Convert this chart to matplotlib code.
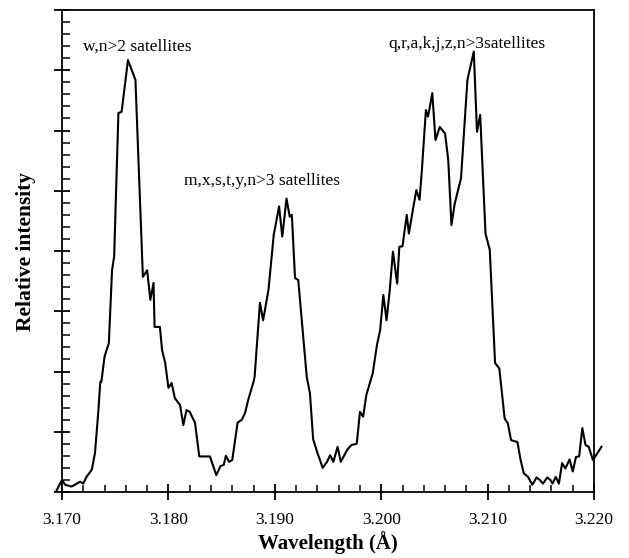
import matplotlib
matplotlib.use("Agg")
import matplotlib.pyplot as plt
from matplotlib.ticker import MultipleLocator, FormatStrFormatter

# Wavelength (Angstrom) and relative intensity
wavelength = [
    3.1695, 3.1700, 3.1703, 3.1709, 3.1717, 3.1720, 3.1723, 3.1728, 3.1731, 3.1734,
    3.1736, 3.1737, 3.1740, 3.1744, 3.1747, 3.1749, 3.1753, 3.1756, 3.1762, 3.1769,
    3.1776, 3.1780, 3.1783, 3.1786, 3.1787, 3.1792, 3.1794, 3.1797, 3.1800, 3.1803,
    3.1806, 3.1811, 3.1814, 3.1817, 3.1820, 3.1825, 3.1829, 3.1839, 3.1845, 3.1849,
    3.1852, 3.1854, 3.1857, 3.1860, 3.1865, 3.1869, 3.1872, 3.1875, 3.1880, 3.1881,
    3.1886, 3.1889, 3.1894, 3.1899, 3.1904, 3.1907, 3.1911, 3.1914, 3.1916, 3.1919,
    3.1922, 3.1930, 3.1933, 3.1936, 3.1940, 3.1945, 3.1949, 3.1952, 3.1955, 3.1959,
    3.1962, 3.1968, 3.1972, 3.1977, 3.1980, 3.1983, 3.1986, 3.1992, 3.1996, 3.1999,
    3.2002, 3.2005, 3.2008, 3.2011, 3.2015, 3.2017, 3.2020, 3.2024, 3.2026, 3.2030,
    3.2033, 3.2036, 3.2038, 3.2042, 3.2044, 3.2048, 3.2051, 3.2055, 3.2060, 3.2063,
    3.2066, 3.2069, 3.2075, 3.2081, 3.2087, 3.2090, 3.2093, 3.2098, 3.2102, 3.2107,
    3.2111, 3.2116, 3.2119, 3.2122, 3.2128, 3.2131, 3.2134, 3.2138, 3.2142, 3.2146,
    3.2149, 3.2152, 3.2156, 3.2159, 3.2161, 3.2164, 3.2167, 3.2170, 3.2173, 3.2177,
    3.2180, 3.2183, 3.2186, 3.2189, 3.2192, 3.2195, 3.2199, 3.2203, 3.2207,
]
intensity = [
    0.03, 0.20, 0.12, 0.09, 0.17, 0.14, 0.25, 0.37, 0.65, 1.31,
    1.83, 1.83, 2.25, 2.47, 3.68, 3.91, 6.29, 6.31, 7.17, 6.84,
    3.57, 3.68, 3.19, 3.47, 2.74, 2.74, 2.36, 2.14, 1.73, 1.81,
    1.56, 1.44, 1.11, 1.36, 1.33, 1.15, 0.59, 0.59, 0.28, 0.43,
    0.45, 0.60, 0.50, 0.53, 1.15, 1.20, 1.31, 1.53, 1.83, 1.91,
    3.14, 2.85, 3.35, 4.27, 4.74, 4.24, 4.87, 4.57, 4.60, 3.55,
    3.52, 1.91, 1.64, 0.88, 0.65, 0.40, 0.50, 0.61, 0.50, 0.75,
    0.50, 0.70, 0.78, 0.80, 1.33, 1.25, 1.61, 1.97, 2.44, 2.69,
    3.27, 2.85, 3.35, 3.99, 3.46, 4.07, 4.08, 4.60, 4.29, 4.71,
    5.01, 4.85, 5.29, 6.34, 6.23, 6.62, 5.84, 6.06, 5.95, 5.51,
    4.43, 4.78, 5.21, 6.84, 7.31, 5.98, 6.26, 4.29, 4.02, 2.14,
    2.05, 1.22, 1.14, 0.86, 0.83, 0.53, 0.31, 0.25, 0.12, 0.24,
    0.20, 0.14, 0.24, 0.20, 0.14, 0.25, 0.14, 0.48, 0.39, 0.54,
    0.34, 0.58, 0.59, 1.06, 0.78, 0.75, 0.53, 0.64, 0.75,
]

labels = ["w,n>2 satellites", "m,x,s,t,y,n>3 satellites", "q,r,a,k,j,z,n>3satellites"]
label_x = [3.1771, 3.1888, 3.2081]
label_y = [7.39, 5.17, 7.43]

x_ticks = [3.170, 3.180, 3.190, 3.200, 3.210, 3.220]

plt.rcParams['font.family'] = ['Liberation Serif', 'DejaVu Serif']

fig = plt.figure(figsize=(6.29, 5.58), dpi=100)
ax = fig.add_axes([0.0986, 0.1183, 0.8458, 0.8637])

ax.plot(wavelength, intensity, color='black', lw=1.5, clip_on=False)

ax.set_xlim(3.170, 3.220)
ax.set_ylim(0, 8)

ax.set_xticks(x_ticks)
ax.xaxis.set_major_formatter(FormatStrFormatter('%.3f'))
ax.xaxis.set_minor_locator(MultipleLocator(0.002))
ax.yaxis.set_major_locator(MultipleLocator(1))
ax.yaxis.set_minor_locator(MultipleLocator(0.2))
ax.set_yticklabels([])

ax.tick_params(axis='x', which='major', direction='inout', length=11, width=1.3,
               labelsize=12.5, pad=9, top=False)
ax.tick_params(axis='x', which='minor', direction='in', length=5, width=1.1, top=False)
ax.tick_params(axis='y', which='major', direction='inout', length=11, width=1.3,
               right=False, labelleft=False)
ax.tick_params(axis='y', which='minor', direction='in', length=6, width=1.1, right=False)

for s in ax.spines.values():
    s.set_linewidth(1.3)

for t, x, y in zip(labels, label_x, label_y):
    ax.text(x, y, t, ha='center', va='center', fontsize=12.5)

ax.set_xlabel('Wavelength (Å)', fontsize=15, fontweight='bold', labelpad=2)
ax.set_ylabel('Relative intensity', fontsize=15.5, fontweight='bold', labelpad=13)

fig.savefig('out.png', dpi=100)
